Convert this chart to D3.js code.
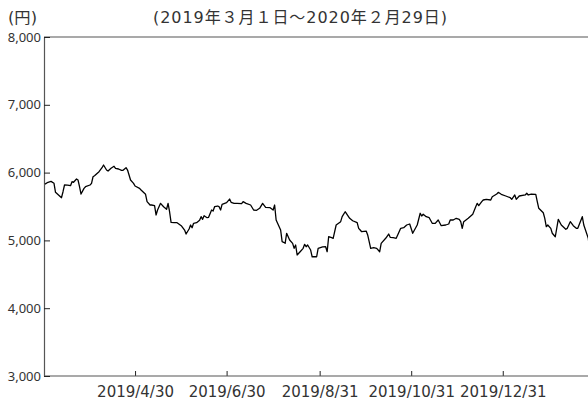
<!DOCTYPE html>
<html>
<head>
<meta charset="utf-8">
<script src="https://cdn.jsdelivr.net/npm/d3@7"></script>
<style>
  body { margin: 0; background: #fff; }
  svg { display: block; }
</style>
</head>
<body>
<div id="chart"></div>
<script>
// 株価の推移 (2019/3/1 - 2020/2/29)
const dates = [
  "2019-03-01","2019-03-03","2019-03-05","2019-03-07","2019-03-08","2019-03-10","2019-03-12","2019-03-13","2019-03-14","2019-03-16",
  "2019-03-18","2019-03-19","2019-03-20","2019-03-22","2019-03-23","2019-03-24","2019-03-25","2019-03-27","2019-03-28","2019-03-31",
  "2019-04-01","2019-04-02","2019-04-03","2019-04-06","2019-04-08","2019-04-09","2019-04-11","2019-04-12","2019-04-14","2019-04-16",
  "2019-04-17","2019-04-19","2019-04-21","2019-04-22","2019-04-24","2019-04-25","2019-04-27","2019-04-29","2019-04-30","2019-05-03",
  "2019-05-04","2019-05-07","2019-05-08","2019-05-10","2019-05-11","2019-05-13","2019-05-14","2019-05-15","2019-05-17","2019-05-19",
  "2019-05-21","2019-05-22","2019-05-23","2019-05-24","2019-05-26","2019-05-28","2019-05-31","2019-06-02","2019-06-03","2019-06-05",
  "2019-06-06","2019-06-07","2019-06-08","2019-06-10","2019-06-12","2019-06-13","2019-06-14","2019-06-15","2019-06-17","2019-06-18",
  "2019-06-20","2019-06-21","2019-06-22","2019-06-24","2019-06-25","2019-06-26","2019-06-27","2019-06-30","2019-07-02","2019-07-03",
  "2019-07-05","2019-07-07","2019-07-10","2019-07-11","2019-07-13","2019-07-16","2019-07-18","2019-07-20","2019-07-22","2019-07-24",
  "2019-07-26","2019-07-29","2019-07-31","2019-08-01","2019-08-02","2019-08-05","2019-08-06","2019-08-07","2019-08-08","2019-08-09",
  "2019-08-11","2019-08-13","2019-08-14","2019-08-15","2019-08-16","2019-08-18","2019-08-20","2019-08-21","2019-08-22","2019-08-23",
  "2019-08-25","2019-08-26","2019-08-29","2019-08-30","2019-09-02","2019-09-04","2019-09-05","2019-09-06","2019-09-08","2019-09-09",
  "2019-09-11","2019-09-14","2019-09-15","2019-09-17","2019-09-20","2019-09-22","2019-09-25","2019-09-26","2019-09-27","2019-09-28",
  "2019-10-01","2019-10-02","2019-10-04","2019-10-06","2019-10-08","2019-10-10","2019-10-11","2019-10-14","2019-10-16","2019-10-17",
  "2019-10-19","2019-10-21","2019-10-22","2019-10-24","2019-10-26","2019-10-28","2019-10-30","2019-11-01","2019-11-04","2019-11-06",
  "2019-11-07","2019-11-08","2019-11-10","2019-11-12","2019-11-14","2019-11-16","2019-11-18","2019-11-20","2019-11-23","2019-11-25",
  "2019-11-26","2019-11-28","2019-11-30","2019-12-02","2019-12-03","2019-12-04","2019-12-05","2019-12-08","2019-12-11","2019-12-13",
  "2019-12-14","2019-12-15","2019-12-17","2019-12-18","2019-12-20","2019-12-23","2019-12-24","2019-12-27","2019-12-28","2019-12-30",
  "2020-01-02","2020-01-05","2020-01-06","2020-01-08","2020-01-09","2020-01-11","2020-01-15","2020-01-16","2020-01-17","2020-01-19",
  "2020-01-22","2020-01-23","2020-01-24","2020-01-27","2020-01-28","2020-01-29","2020-01-30","2020-02-01","2020-02-02","2020-02-04",
  "2020-02-06","2020-02-08","2020-02-11","2020-02-12","2020-02-14","2020-02-16","2020-02-18","2020-02-19","2020-02-22","2020-02-23",
  "2020-02-26","2020-02-27","2020-02-28"
];

const prices = [
  5830,5857,5870,5842,5709,5670,5630,5718,5817,5815,
  5807,5866,5857,5906,5891,5792,5684,5768,5792,5817,
  5842,5939,5954,6013,6072,6112,6038,6023,6063,6093,
  6063,6053,6034,6034,6072,6038,5891,5842,5802,5768,
  5743,5680,5571,5522,5522,5512,5375,5448,5547,5497,
  5459,5547,5423,5267,5261,5261,5212,5153,5094,5168,
  5227,5187,5252,5261,5296,5350,5311,5364,5335,5340,
  5448,5433,5497,5507,5497,5448,5532,5556,5610,5562,
  5547,5547,5541,5571,5547,5522,5448,5444,5473,5547,
  5488,5482,5448,5522,5301,5153,4981,4972,4957,5105,
  5006,4957,4883,4932,4785,4833,4883,4942,4907,4932,
  4858,4759,4759,4883,4903,4907,4833,5054,5040,5030,
  5227,5276,5350,5423,5326,5290,5261,5178,5153,5128,
  5138,5080,4883,4892,4883,4833,4957,5031,5094,5046,
  5040,5031,5080,5178,5187,5227,5242,5105,5227,5400,
  5360,5385,5350,5335,5252,5252,5301,5217,5227,5242,
  5301,5301,5326,5311,5276,5178,5276,5326,5385,5497,
  5547,5512,5571,5596,5606,5596,5644,5684,5709,5680,
  5655,5630,5606,5670,5606,5655,5670,5695,5670,5684,
  5680,5571,5473,5408,5326,5202,5227,5178,5105,5054,
  5311,5227,5164,5178,5276,5217,5178,5178,5350,5227,
  5031,4850,4650
];

const tickDates = ["2019-04-30", "2019-06-30", "2019-08-31", "2019-10-31", "2019-12-31"];
const yTicks = [3000, 4000, 5000, 6000, 7000, 8000];
const unitLabel = "(円)";
const periodLabel = "(2019年３月１日～2020年２月29日)";

const width = 588;
const height = 401;
const parse = d3.timeParse("%Y-%m-%d");

const data = dates.map((d, i) => ({ date: parse(d), value: prices[i] }));

const x = d3.scaleTime()
    .domain([parse("2019-03-01"), parse("2020-02-29")])
    .range([45, 592.8]);
const y = d3.scaleLinear()
    .domain([3000, 8000])
    .range([376, 37]);

const svg = d3.select("#chart").append("svg")
    .attr("width", width)
    .attr("height", height);

svg.append("defs").append("clipPath").attr("id", "clip")
    .append("rect").attr("x", 44).attr("y", 0).attr("width", width - 44).attr("height", height);

// top frame line
svg.append("line")
    .attr("x1", 44).attr("x2", width)
    .attr("y1", y(8000)).attr("y2", y(8000))
    .attr("stroke", "#555").attr("stroke-width", 1.2);

// x axis
const xAxis = d3.axisBottom(x)
    .tickValues(tickDates.map(parse))
    .tickFormat(d3.timeFormat("%Y/%-m/%-d"))
    .tickSizeInner(-5)
    .tickSizeOuter(0)
    .tickPadding(10);

const gx = svg.append("g")
    .attr("transform", `translate(0,${y(3000)})`)
    .call(xAxis);
gx.select(".domain").remove();
gx.append("line")
    .attr("x1", 44).attr("x2", width)
    .attr("stroke", "#555").attr("stroke-width", 1.2);
gx.selectAll(".tick line").attr("stroke", "#222");
gx.selectAll("text")
    .attr("fill", "#333")
    .style("font-family", "'DejaVu Sans', sans-serif")
    .style("font-size", "15px");

// y axis
const yAxis = d3.axisLeft(y)
    .tickValues(yTicks)
    .tickFormat(d3.format(","))
    .tickSizeInner(-6)
    .tickSizeOuter(0)
    .tickPadding(3);

const gy = svg.append("g")
    .attr("transform", "translate(44,0)")
    .call(yAxis);
gy.select(".domain").attr("stroke", "#555").attr("stroke-width", 1.2);
gy.selectAll(".tick line").attr("stroke", "#222");
gy.selectAll("text")
    .attr("fill", "#333")
    .style("font-family", "'Noto Sans', sans-serif")
    .style("font-size", "13px");

// price line
svg.append("path")
    .datum(data)
    .attr("clip-path", "url(#clip)")
    .attr("fill", "none")
    .attr("stroke", "#000")
    .attr("stroke-width", 1.3)
    .attr("stroke-linejoin", "round")
    .attr("d", d3.line().x(d => x(d.date)).y(d => y(d.value)));

// labels
svg.append("text")
    .attr("x", 8).attr("y", 23)
    .attr("fill", "#333")
    .attr("textLength", 29)
    .attr("lengthAdjust", "spacingAndGlyphs")
    .style("font-family", "'DejaVu Sans', 'Noto Sans CJK JP', sans-serif")
    .style("font-size", "15px")
    .text(unitLabel);

svg.append("text")
    .attr("x", 153).attr("y", 23)
    .attr("fill", "#333")
    .attr("textLength", 294)
    .attr("lengthAdjust", "spacing")
    .style("font-family", "'DejaVu Sans', 'Noto Sans CJK JP', sans-serif")
    .style("font-size", "16px")
    .text(periodLabel);
</script>
</body>
</html>
